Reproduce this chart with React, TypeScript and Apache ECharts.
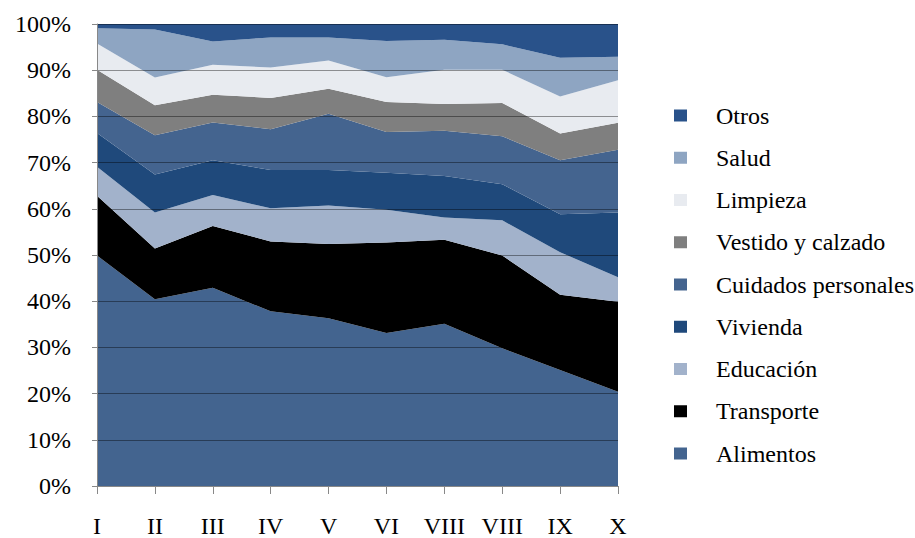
import React, { useEffect, useRef } from "react";
import * as echarts from "echarts";

const categories = ["I", "II", "III", "IV", "V", "VI", "VIII", "VIII", "IX", "X"];

const alimentos = [49.9, 40.4, 42.9, 37.8, 36.3, 33.1, 35.1, 29.8, 25.1, 20.4];
const transporte = [12.9, 11.0, 13.4, 15.1, 16.1, 19.6, 18.2, 20.1, 16.3, 19.5];
const educacion = [6.3, 7.8, 6.7, 7.2, 8.3, 7.1, 4.8, 7.6, 9.2, 5.3];
const vivienda = [7.3, 8.2, 7.5, 8.3, 7.7, 8.0, 9.0, 7.8, 8.2, 14.0];
const cuidados = [6.7, 8.5, 8.2, 8.8, 12.2, 8.8, 9.8, 10.4, 11.7, 13.6];
const vestido = [7.0, 6.5, 6.0, 6.8, 5.4, 6.5, 5.8, 7.2, 5.8, 5.8];
const limpieza = [5.7, 6.0, 6.5, 6.6, 6.1, 5.4, 7.4, 7.2, 8.0, 9.2];
const salud = [3.3, 10.4, 5.0, 6.5, 5.0, 7.8, 6.5, 5.5, 8.4, 5.1];
const otros = [0.9, 1.2, 3.8, 2.9, 2.9, 3.7, 3.4, 4.4, 7.3, 7.1];

const seriesDefs = [
  { name: "Alimentos", data: alimentos, color: "#43648F" },
  { name: "Transporte", data: transporte, color: "#000000" },
  { name: "Educación", data: educacion, color: "#A2B2CB" },
  { name: "Vivienda", data: vivienda, color: "#1F497B" },
  { name: "Cuidados personales", data: cuidados, color: "#44648F" },
  { name: "Vestido y calzado", data: vestido, color: "#7F7F7F" },
  { name: "Limpieza", data: limpieza, color: "#E8EBF0" },
  { name: "Salud", data: salud, color: "#8EA5C2" },
  { name: "Otros", data: otros, color: "#29528A" },
];

const yTicks = [0, 10, 20, 30, 40, 50, 60, 70, 80, 90, 100];

export default function App() {
  const ref = useRef<HTMLDivElement>(null);
  useEffect(() => {
    if (!ref.current) return;
    const chart = echarts.init(ref.current, null, { renderer: "svg" });
    const font = "'Liberation Serif', 'Times New Roman', serif";
    chart.setOption({
      animation: false,
      backgroundColor: "#ffffff",
      grid: { left: 97, right: 297, top: 24, bottom: 50, containLabel: false },
      legend: {
        orient: "vertical",
        left: 669,
        top: 98.5,
        itemWidth: 13,
        itemHeight: 12,
        itemGap: 18.25,
        icon: "rect",
        data: seriesDefs.map((s) => s.name).reverse(),
        textStyle: {
          fontFamily: font,
          fontSize: 24,
          color: "#000",
          padding: [0, 0, 0, 24],
        },
      },
      xAxis: {
        type: "category",
        data: categories,
        boundaryGap: false,
        axisLine: { show: true, lineStyle: { color: "#888888", width: 1 } },
        axisTick: { show: true, length: 8, lineStyle: { color: "#888888" } },
        axisLabel: { fontFamily: font, fontSize: 24, color: "#000", margin: 28, interval: 0 },
        splitLine: { show: false },
        z: 3,
      },
      yAxis: {
        type: "value",
        min: yTicks[0],
        max: yTicks[yTicks.length - 1],
        interval: 10,
        axisLine: { show: true, lineStyle: { color: "#888888", width: 1 } },
        axisTick: { show: true, length: 5, lineStyle: { color: "#888888" } },
        axisLabel: {
          fontFamily: font,
          fontSize: 24,
          color: "#000",
          margin: 26,
          formatter: "{value}%",
        },
        splitLine: { show: true, lineStyle: { color: "rgba(0,0,0,0.4)", width: 1.2 } },
        z: 3,
      },
      series: seriesDefs.map((s) => ({
        name: s.name,
        type: "line",
        stack: "total",
        data: s.data,
        symbol: "none",
        lineStyle: { width: 0 },
        areaStyle: { color: s.color, opacity: 1 },
        itemStyle: { color: s.color },
        z: 2,
      })),
    });
    return () => chart.dispose();
  }, []);
  return <div ref={ref} style={{ width: 915, height: 538, position: "absolute", left: 0, top: 0 }} />;
}
